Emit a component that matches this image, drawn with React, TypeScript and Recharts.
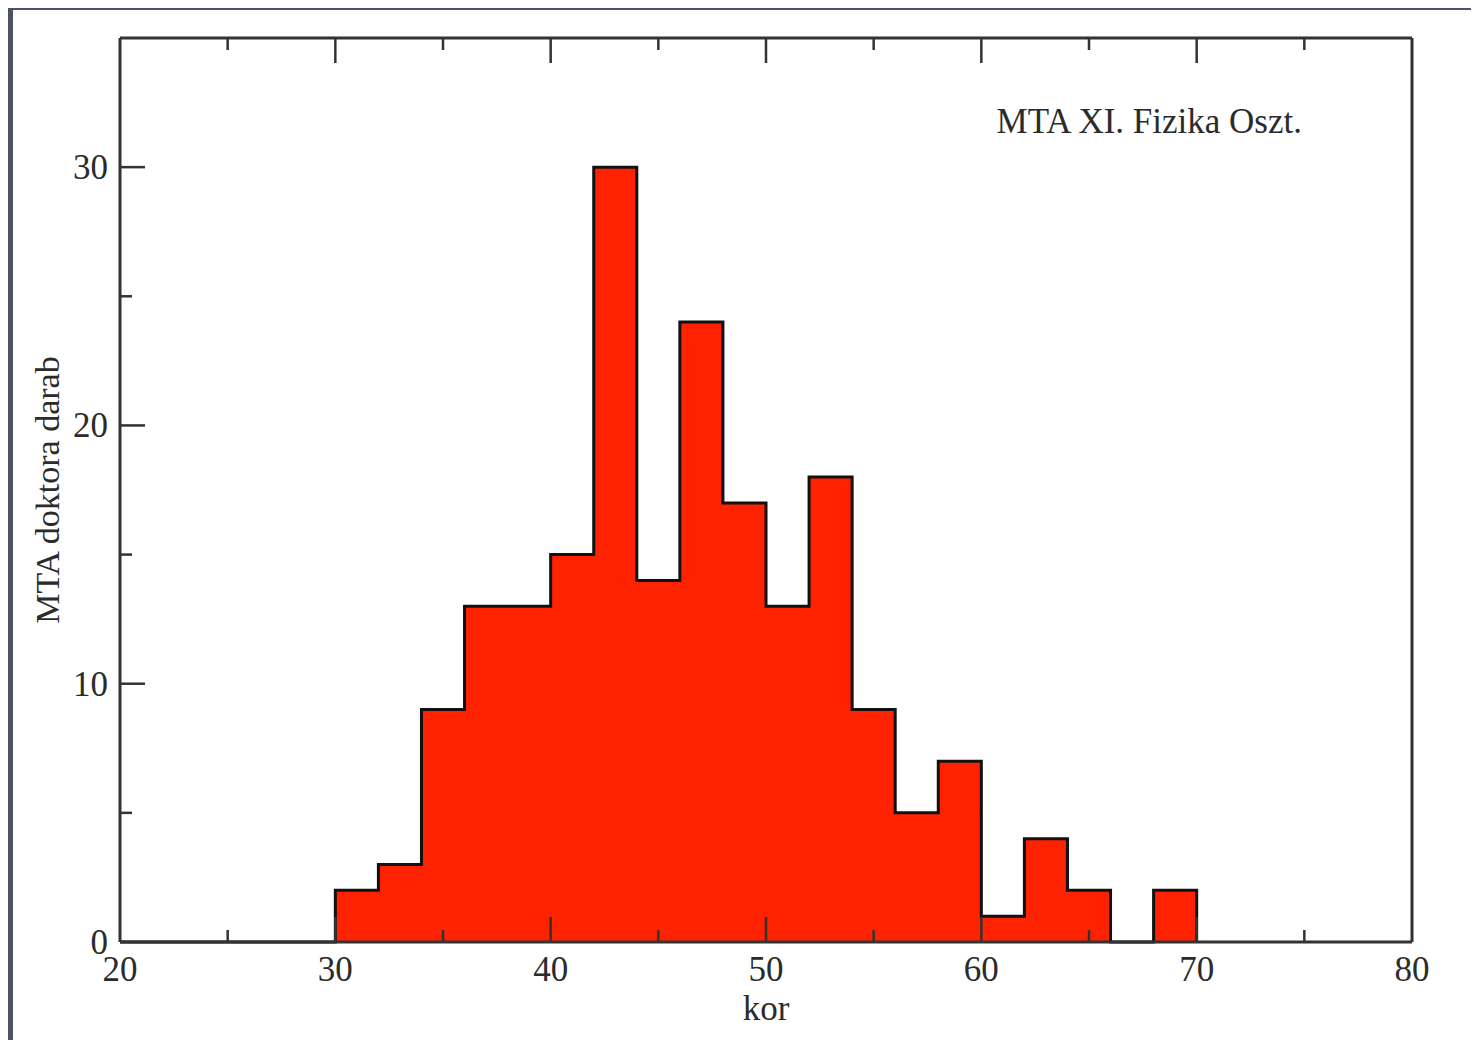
import React from 'react';
import { ComposedChart, Area, XAxis, YAxis, Label, ReferenceDot } from 'recharts';

// bin start ages (2-year bins) and counts, last point closes the step
const binStarts = [20, 30, 32, 34, 36, 38, 40, 42, 44, 46, 48, 50, 52, 54, 56, 58, 60, 62, 64, 66, 68, 70];
const counts = [0, 2, 3, 9, 13, 13, 15, 30, 14, 24, 17, 13, 18, 9, 5, 7, 1, 4, 2, 0, 2, 0];

const xTicks = [20, 25, 30, 35, 40, 45, 50, 55, 60, 65, 70, 75, 80];
const yTicks = [0, 5, 10, 15, 20, 25, 30];

const xLabel = 'kor';
const yLabel = 'MTA doktora darab';
const note = 'MTA XI. Fizika Oszt.';

const data = binStarts.map((age, i) => ({ age, count: counts[i] }));

const FONT = '"Liberation Serif", "DejaVu Serif", serif';
const INK = '#2b2b2b';
const AXIS = '#333';

const tickLen = (v: number) => (v % 10 === 0 ? 25 : 12);

const BottomTick = (props: any) => {
  const { x, y, payload } = props;
  const v = payload.value;
  const edge = v === 20 || v === 80;
  return (
    <g>
      {!edge && <line x1={x} x2={x} y1={y} y2={y - tickLen(v)} stroke={AXIS} strokeWidth={2.5} />}
      {v % 10 === 0 && (
        <text x={x} y={y + 39} textAnchor="middle" fontFamily={FONT} fontSize={35} fill={INK}>
          {v}
        </text>
      )}
    </g>
  );
};

const TopTick = (props: any) => {
  const { x, y, payload } = props;
  const v = payload.value;
  if (v === 20 || v === 80) return <g />;
  return <line x1={x} x2={x} y1={y} y2={y + tickLen(v)} stroke={AXIS} strokeWidth={2.5} />;
};

const LeftTick = (props: any) => {
  const { x, y, payload } = props;
  const v = payload.value;
  return (
    <g>
      {v !== 0 && <line x1={x} x2={x + tickLen(v)} y1={y} y2={y} stroke={AXIS} strokeWidth={2.5} />}
      {v % 10 === 0 && (
        <text x={x - 12} y={y + 12} textAnchor="end" fontFamily={FONT} fontSize={35} fill={INK}>
          {v}
        </text>
      )}
    </g>
  );
};

const RightTick = (props: any) => {
  const { x, y, payload } = props;
  const v = payload.value;
  if (v === 0) return <g />;
  return <line x1={x} x2={x - tickLen(v)} y1={y} y2={y} stroke={AXIS} strokeWidth={2.5} />;
};

export default function App() {
  return (
    <div style={{ position: 'relative', margin: -8, width: 1479, height: 1048, background: '#4c5362', overflow: 'hidden' }}>
      <div style={{ position: 'absolute', left: 13, top: 10, right: 0, bottom: 0, background: '#fff' }} />
      <div style={{ position: 'absolute', left: 0, top: 0 }}>
        <ComposedChart width={1479} height={1048} data={data} margin={{ top: 37, right: 66, bottom: 105, left: 119 }}>
          <Area
            type="stepAfter"
            dataKey="count"
            xAxisId="bottom"
            yAxisId="left"
            fill="#ff2200"
            fillOpacity={1}
            stroke="#111"
            strokeWidth={3}
            isAnimationActive={false}
          />
          <XAxis
            xAxisId="bottom"
            dataKey="age"
            type="number"
            domain={[20, 80]}
            ticks={xTicks}
            height={1}
            tickSize={0}
            tickMargin={0}
            tickLine={false}
            axisLine={{ stroke: AXIS, strokeWidth: 3 }}
            tick={BottomTick}
            interval={0}
          >
            <Label
              content={({ viewBox }: any) => (
                <text x={viewBox.x + viewBox.width / 2} y={viewBox.y + 78} textAnchor="middle" fontFamily={FONT} fontSize={35} fill={INK}>
                  {xLabel}
                </text>
              )}
            />
          </XAxis>
          <XAxis
            xAxisId="top"
            orientation="top"
            dataKey="age"
            type="number"
            domain={[20, 80]}
            ticks={xTicks}
            height={1}
            tickSize={0}
            tickMargin={0}
            tickLine={false}
            axisLine={{ stroke: AXIS, strokeWidth: 3 }}
            tick={TopTick}
            interval={0}
          />
          <YAxis
            yAxisId="left"
            type="number"
            domain={[0, 35]}
            ticks={yTicks}
            width={1}
            tickSize={0}
            tickMargin={0}
            tickLine={false}
            axisLine={{ stroke: AXIS, strokeWidth: 3 }}
            tick={LeftTick}
            interval={0}
          >
            <Label
              content={({ viewBox }: any) => {
                const cx = 47;
                const cy = viewBox.y + viewBox.height / 2;
                return (
                  <text
                    x={cx}
                    y={cy}
                    transform={`rotate(-90 ${cx} ${cy})`}
                    textAnchor="middle"
                    dominantBaseline="central"
                    fontFamily={FONT}
                    fontSize={34}
                    fill={INK}
                  >
                    {yLabel}
                  </text>
                );
              }}
            />
          </YAxis>
          <YAxis
            yAxisId="right"
            orientation="right"
            type="number"
            domain={[0, 35]}
            ticks={yTicks}
            width={1}
            tickSize={0}
            tickMargin={0}
            tickLine={false}
            axisLine={{ stroke: AXIS, strokeWidth: 3 }}
            tick={RightTick}
            interval={0}
          />
          <ReferenceDot
            xAxisId="bottom"
            yAxisId="left"
            x={67.8}
            y={31.8}
            r={0}
            fill="none"
            stroke="none"
            label={{ value: note, position: 'center', fontFamily: FONT, fontSize: 35, fill: INK }}
          />
        </ComposedChart>
      </div>
    </div>
  );
}
